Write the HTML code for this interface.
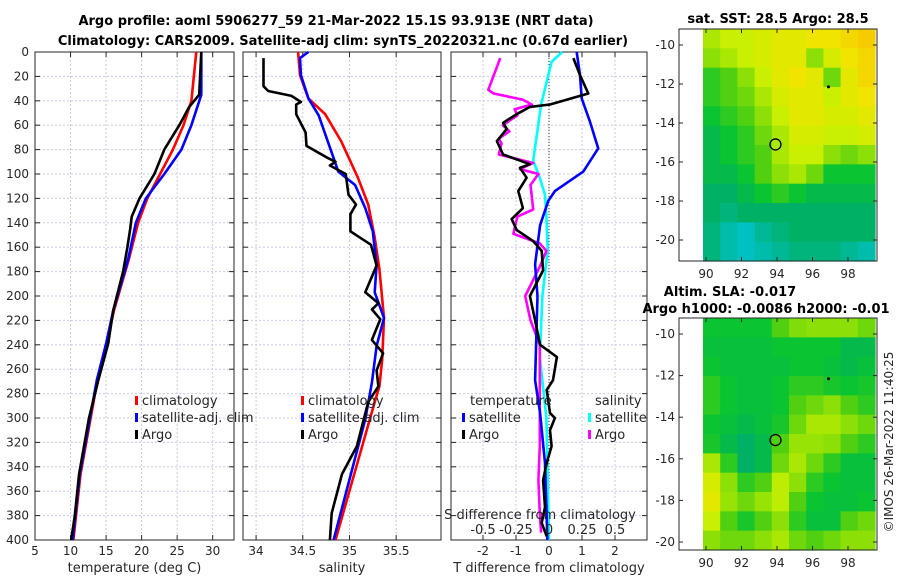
<!DOCTYPE html>
<html><head><meta charset="utf-8"><style>
body{margin:0;background:#fff;}
svg{display:block;font-family:"DejaVu Sans","Liberation Sans",sans-serif;}
.t{font-size:12px;fill:#262626}
.b{font-size:13px;font-weight:bold;fill:#000}
</style></head><body>
<svg id="c" width="900" height="580" viewBox="0 0 900 580"></svg>
<script>
// ---- data ----
const depthTicks=[0,20,40,60,80,100,120,140,160,180,200,220,240,260,280,300,320,340,360,380,400];
const tempTicks=[5,10,15,20,25,30];
const salTicks=[34,34.5,35,35.5];
const tdiffTicks=[-2,-1,0,1,2];
const sdiffTicks=[-0.5,-0.25,0,0.25,0.5];
const sdiffTickLabels=["-0.5","-0.25","0","0.25","0.5"];
const lonTicks=[90,92,94,96,98];
const latTicks=[-10,-12,-14,-16,-18,-20];

const tClimD=[0,40,60,80,100,120,140,170,212,239,269,346,400];
const tClimV=[27.7,27.0,25.9,24.4,22.6,20.8,19.5,18.2,16.1,15.1,13.8,11.4,10.4];
const tSatD=[0,35,60,80,100,120,140,170,212,239,269,346,400];
const tSatV=[28.4,28.4,27.0,25.6,23.2,20.6,19.2,18.1,16.0,15.0,13.7,11.3,10.3];
const tArgoD=[0,35,45,60,80,100,120,135,145,160,180,212,239,269,300,346,380,400];
const tArgoV=[28.4,28.1,26.7,25.3,23.2,21.8,19.7,18.6,18.4,18.0,17.4,16.0,15.3,13.9,12.6,11.2,10.6,10.1];

const sClimD=[0,19,38,51,73,103,125,152,178,218,252,274,287,400];
const sClimV=[34.45,34.47,34.56,34.74,34.91,35.09,35.2,35.27,35.32,35.37,35.35,35.32,35.27,34.85];
const sSatD=[0,5,19,38,52,87,98,109,128,147,175,197,218,241,271,301,400];
const sSatV=[34.56,34.47,34.48,34.56,34.67,34.83,34.88,35.06,35.17,35.25,35.29,35.27,35.37,35.29,35.24,35.17,34.83];
const sArgoD=[5,28,32,36,41,43,51,66,77,87,90,93,100,117,125,133,147,158,175,197,206,211,219,236,247,261,274,287,323,346,378,400];
const sArgoV=[34.08,34.08,34.13,34.38,34.48,34.43,34.43,34.53,34.54,34.77,34.85,34.79,34.96,34.99,35.07,35.01,35.01,35.23,35.29,35.17,35.31,35.24,35.33,35.24,35.36,35.29,35.31,35.2,35.08,34.92,34.81,34.79];

const dtSatD=[0,19,38,57,79,98,114,122,142,174,200,269,296,337,400];
const dtSatV=[0.84,0.94,0.99,1.24,1.49,1.04,0.18,-0.02,-0.27,-0.42,-0.35,-0.42,-0.27,-0.12,-0.05];
const dtArgoD=[5,19,34,36,43,45,51,58,63,73,84,92,95,103,114,128,137,146,155,163,179,200,220,240,250,269,277,296,300,310,323,337,351,373,386,397];
const dtArgoV=[0.74,0.94,1.19,0.94,0.03,-0.58,-0.98,-1.39,-1.28,-1.58,-1.39,-0.58,-0.88,-0.68,-0.93,-0.79,-1.13,-0.98,-0.48,-0.22,-0.18,-0.58,-0.42,-0.27,0.24,0.12,-0.07,0.03,0.18,0.03,0.08,-0.07,-0.18,-0.12,-0.22,-0.07];
const dsSatD=[0,8,30,43,89,103,117,135,163,200,250,300,350,400];
const dsSatV=[0.1,0.02,-0.03,-0.06,-0.12,-0.07,-0.03,-0.02,-0.01,-0.05,-0.07,-0.02,-0.01,0.0];
const dsArgoD=[5,11,31,34,39,43,47,52,60,65,71,75,84,91,96,100,109,129,135,149,157,163,176,200,220,240,260,296,323,351,378,394];
const dsArgoV=[-0.37,-0.39,-0.46,-0.42,-0.2,-0.13,-0.26,-0.24,-0.35,-0.3,-0.38,-0.36,-0.38,-0.12,-0.22,-0.08,-0.14,-0.12,-0.24,-0.27,-0.07,-0.02,-0.07,-0.18,-0.14,-0.07,-0.07,-0.07,-0.07,-0.08,-0.07,-0.06];

const sstGrid=[
[.65,.7,.7,.75,.8,.8,.85,.85,.9,.95],
[.6,.65,.7,.75,.8,.8,.6,.75,.85,.9],
[.45,.5,.6,.7,.8,.85,.8,.55,.8,.9],
[.45,.5,.55,.65,.75,.8,.8,.7,.8,.85],
[.4,.45,.5,.6,.7,.8,.8,.75,.75,.8],
[.35,.4,.45,.55,.65,.75,.75,.7,.7,.75],
[.35,.4,.45,.5,.65,.7,.7,.6,.55,.6],
[.35,.35,.4,.5,.6,.65,.55,.4,.4,.4],
[.3,.3,.35,.4,.45,.4,.35,.35,.35,.35],
[.3,.25,.3,.3,.3,.3,.3,.3,.3,.3],
[.25,.15,.1,.2,.25,.3,.3,.3,.3,.3],
[.25,.15,.1,.15,.2,.25,.25,.25,.2,.15]];
const slaGrid=[
[.4,.4,.4,.4,.5,.58,.6,.6,.6,.55],
[.38,.38,.38,.38,.4,.4,.4,.4,.35,.35],
[.4,.38,.38,.38,.38,.4,.4,.38,.35,.38],
[.45,.4,.38,.38,.4,.45,.45,.42,.4,.42],
[.45,.4,.38,.38,.4,.5,.55,.6,.5,.45],
[.4,.38,.35,.38,.42,.55,.65,.65,.6,.55],
[.42,.35,.3,.35,.5,.62,.62,.6,.5,.45],
[.65,.45,.3,.35,.55,.65,.55,.45,.38,.38],
[.75,.6,.45,.5,.68,.6,.45,.4,.38,.38],
[.8,.62,.55,.62,.68,.5,.4,.38,.38,.4],
[.7,.5,.42,.5,.6,.45,.38,.38,.5,.55],
[.6,.55,.55,.6,.65,.55,.5,.55,.6,.6]];

// ---- drawing ----
const NS="http://www.w3.org/2000/svg";
const svg=document.getElementById('c');
function el(tag,attrs,parent,text){const e=document.createElementNS(NS,tag);for(const k in attrs)e.setAttribute(k,attrs[k]);if(text!==undefined)e.textContent=text;(parent||svg).appendChild(e);return e;}
const Y0=52,Y1=540;
const yD=d=>Y0+d*(Y1-Y0)/400;

const panels=[
 {x0:35,x1:234,v0:5,v1:33.0,ticks:tempTicks,labels:tempTicks.map(String),title:"temperature (deg C)",name:"temperature-panel"},
 {x0:243,x1:441,v0:33.86,v1:35.98,ticks:salTicks,labels:salTicks.map(String),title:"salinity",name:"salinity-panel"},
 {x0:451,x1:647,v0:-2.97,v1:2.97,ticks:tdiffTicks,labels:tdiffTicks.map(String),title:"T difference from climatology",name:"difference-panel"}
];
panels.forEach(p=>{p.sx=v=>p.x0+(v-p.v0)/(p.v1-p.v0)*(p.x1-p.x0);});

panels.forEach((p,i)=>{
 const g=el('g',{});
 
 
 depthTicks.forEach(d=>{
  el('line',{x1:p.x0,x2:p.x1,y1:yD(d),y2:yD(d),stroke:'#c5cbe6','stroke-width':1,'stroke-dasharray':'2,2'},g);
  el('line',{x1:p.x0,x2:p.x0+5,y1:yD(d),y2:yD(d),stroke:'#262626'},g);
  el('line',{x1:p.x1-5,x2:p.x1,y1:yD(d),y2:yD(d),stroke:'#262626'},g);
  if(i==0){const t=el('text',{x:29,y:yD(d)+4,'text-anchor':'end',class:'t'},g,String(d));}
 });
 p.ticks.forEach((v,k)=>{
  const x=p.sx(v);
  el('line',{x1:x,x2:x,y1:Y0,y2:Y1,stroke:'#c5cbe6','stroke-dasharray':'2,2'},g);
  el('line',{x1:x,x2:x,y1:Y1,y2:Y1-5,stroke:'#262626'},g);
  el('line',{x1:x,x2:x,y1:Y0,y2:Y0+5,stroke:'#262626'},g);
  const t=el('text',{x:x,y:555,'text-anchor':'middle',class:'t'},g,p.labels[k]);
  
  
 });
 el('rect',{x:p.x0,y:Y0,width:p.x1-p.x0,height:Y1-Y0,fill:'none',stroke:'#262626','stroke-width':1},g);
 const tt=el('text',{x:(p.x0+p.x1)/2,y:572,'text-anchor':'middle',class:'t',style:'font-size:13px'},g,p.title);
 
 
});

function line(p,ds,vs,color,name,scale){
 const sx=scale||p.sx;
 const pts=ds.map((d,k)=>sx(vs[k]).toFixed(1)+','+yD(d).toFixed(1)).join(' ');
 const l=el('polyline',{points:pts,fill:'none',stroke:color,'stroke-width':2.6,'stroke-linejoin':'round'});
 
 
}
const P0=panels[0],P1=panels[1],P2=panels[2];
line(P0,tClimD,tClimV,'#ff0000','temp-climatology-line');
line(P0,tSatD,tSatV,'#0000ff','temp-satellite-line');
line(P0,tArgoD,tArgoV,'#000000','temp-argo-line');
line(P1,sClimD,sClimV,'#ff0000','sal-climatology-line');
line(P1,sSatD,sSatV,'#0000ff','sal-satellite-line');
line(P1,sArgoD,sArgoV,'#000000','sal-argo-line');
el('line',{x1:P2.sx(0),x2:P2.sx(0),y1:Y0,y2:Y1,stroke:'#333','stroke-dasharray':'1,2'});
const sS=v=>P2.sx(0)+v*132;
line(P2,dsSatD,dsSatV,'#00ffff','sdiff-satellite-line',sS);
line(P2,dsArgoD,dsArgoV,'#ff00ff','sdiff-argo-line',sS);
line(P2,dtSatD,dtSatV,'#0000ff','tdiff-satellite-line');
line(P2,dtArgoD,dtArgoV,'#000000','tdiff-argo-line');

const sa=el('text',{x:540,y:519,'text-anchor':'middle',class:'t',style:'font-size:13px'},svg,"S difference from climatology");

sdiffTicks.forEach((v,k)=>{const t=el('text',{x:sS(v),y:534,'text-anchor':'middle',class:'t',style:'font-size:13px'},svg,sdiffTickLabels[k]);});

function legend(x,y,color,label,name){
 const g=el('g',{});
 
 
 el('rect',{x:x,y:y-9,width:3,height:9,fill:color},g);
 el('text',{x:x+7,y:y,class:'t',style:'font-size:13px'},g,label);
}
[[P0,135],[P1,301]].forEach(([p,x],i)=>{
 legend(x,405,'#ff0000','climatology','legend-climatology');
 legend(x,422,'#0000ff','satellite-adj. clim','legend-satellite-adj');
 legend(x,439,'#000000','Argo','legend-argo');
});
el('text',{x:470,y:405,class:'t',style:'font-size:13px'},svg,'temperature');
legend(462,422,'#0000ff','satellite','legend-t-satellite');
legend(462,439,'#000000','Argo','legend-t-argo');
el('text',{x:595,y:405,class:'t',style:'font-size:13px'},svg,'salinity');
legend(588,422,'#00ffff','satellite','legend-s-satellite');
legend(588,439,'#ff00ff','Argo','legend-s-argo');

const t1=el('text',{x:336,y:25,'text-anchor':'middle',class:'b'},svg,"Argo profile: aoml 5906277_59 21-Mar-2022 15.1S 93.913E (NRT data)");

const t2=el('text',{x:343,y:45,'text-anchor':'middle',class:'b'},svg,"Climatology: CARS2009. Satellite-adj clim: synTS_20220321.nc (0.67d earlier)");


const cstops=[[0,[0,200,240]],[0.3,[0,176,100]],[0.4,[10,196,50]],[0.5,[80,208,16]],[0.7,[200,240,0]],[0.85,[240,228,0]],[1,[248,192,0]]];
function cmap(v){for(let i=1;i<cstops.length;i++){if(v<=cstops[i][0]){const a=cstops[i-1],b=cstops[i];const f=(v-a[0])/(b[0]-a[0]);const c=a[1].map((q,j)=>Math.round(q+(b[1][j]-q)*f));return 'rgb('+c.join(',')+')';}}return 'rgb(248,192,0)';}

function map(cfg){
 const g=el('g',{});
 
 
 const lx=v=>706+(v-90)*17.75;
 const ly=v=>cfg.latY0+(-10-v)*cfg.dy;
 const grid=cfg.grid,nr=grid.length,nc=grid[0].length;
 const gx0=703,gx1=875,gy0=cfg.y0,gy1=cfg.y1;
 const cw=(gx1-gx0)/nc,ch=(gy1-gy0)/nr;
 grid.forEach((row,r)=>row.forEach((v,c)=>{
  const cell=el('rect',{x:gx0+c*cw,y:gy0+r*ch,width:cw+0.6,height:ch+0.6,fill:cmap(v)},g);
  
  
 }));
 el('rect',{x:679,y:cfg.y0,width:198,height:cfg.y1-cfg.y0,fill:'none',stroke:'#262626'},g);
 lonTicks.forEach(v=>{el('line',{x1:lx(v),x2:lx(v),y1:cfg.y1,y2:cfg.y1-4,stroke:'#262626'},g);el('line',{x1:lx(v),x2:lx(v),y1:cfg.y0,y2:cfg.y0+4,stroke:'#262626'},g);el('text',{x:lx(v),y:cfg.y1+17,'text-anchor':'middle',class:'t'},g,String(v));});
 latTicks.forEach(v=>{el('line',{x1:679,x2:683,y1:ly(v),y2:ly(v),stroke:'#262626'},g);el('line',{x1:873,x2:877,y1:ly(v),y2:ly(v),stroke:'#262626'},g);el('text',{x:675,y:ly(v)+4,'text-anchor':'end',class:'t'},g,String(v));});
 el('circle',{cx:lx(93.913),cy:ly(-15.1),r:5.5,fill:'none',stroke:'#000','stroke-width':1.3},g);
 el('circle',{cx:lx(96.9),cy:ly(-12.15),r:1.5,fill:'#000'},g);
 return g;
}
map({name:'sst-map',grid:sstGrid,y0:29,y1:261,latY0:45,dy:19.5});
map({name:'sla-map',grid:slaGrid,y0:318,y1:550,latY0:334,dy:20.8});
const m1=el('text',{x:778,y:23,'text-anchor':'middle',class:'b'},svg,"sat. SST: 28.5 Argo: 28.5");

const m2=el('text',{x:730,y:296,'text-anchor':'middle',class:'b'},svg,"Altim. SLA: -0.017");

const m3=el('text',{x:766,y:313,'text-anchor':'middle',class:'b'},svg,"Argo h1000: -0.0086 h2000: -0.01");

const cp=el('text',{x:0,y:0,class:'t',transform:'translate(893,442) rotate(-90)','text-anchor':'middle'},svg,"©IMOS 26-Mar-2022 11:40:25");

</script>
</body></html>
